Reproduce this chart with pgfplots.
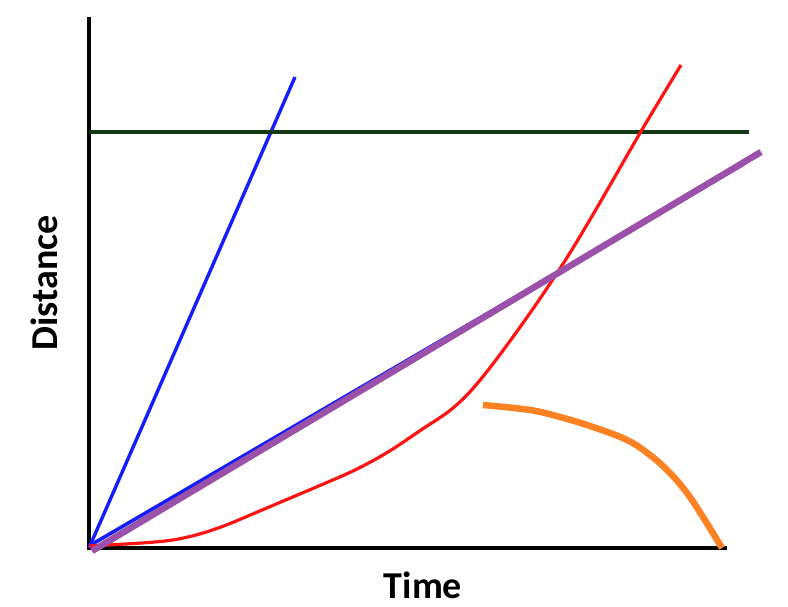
\documentclass[border=0pt]{standalone}
\usepackage{pgfplots}
\pgfplotsset{compat=1.18}
\usepackage{fontspec}
\setmainfont{Carlito}
\definecolor{cblue}{RGB}{20,30,250}
\definecolor{cgreen}{RGB}{20,55,20}
\definecolor{cred}{RGB}{255,20,20}
\definecolor{cpurple}{RGB}{155,80,170}
\definecolor{corange}{RGB}{252,130,35}
\begin{document}
\begin{tikzpicture}
\begin{axis}[
  scale only axis,
  width=638pt, height=531pt,
  xmin=0, xmax=638, ymin=0, ymax=531,
  axis lines=none,
  xtick=\empty, ytick=\empty,
  clip=false,
]
\draw[line width=4pt, black] (axis cs:0,531) -- (axis cs:0,-0.5) -- (axis cs:638,-0.5);
% steep blue
\addplot[cblue, line width=3.4pt] coordinates {(0,0) (206,471)};
% shallow blue (under purple)
\addplot[cblue, line width=3.6pt] coordinates {(0,2) (653,383)};
% horizontal green
\addplot[cgreen, line width=3.4pt] coordinates {(0,416) (660,416)};
% red curve
\addplot[cred, line width=3.2pt, smooth, tension=0.6] coordinates {
(0,2) (66,6) (99,11) (132,21) (166,35) (199,49) (232,63) (266,78)
(299,96) (332,118) (364,140) (392,169) (434,225) (472,281)
(499,325) (524,368) (554,420) (592,483)};
% purple line
\addplot[cpurple, line width=6.5pt] coordinates {(3,-3) (672,396)};
% orange curve
\addplot[corange, line width=6.5pt, smooth, tension=0.6] coordinates {
(394,143) (441,138) (471,131) (504,121) (538,108) (561,93) (581,75)
(598,55) (614,31) (633,0)};
\node[anchor=base, inner sep=0pt, font=\bfseries\fontsize{38}{40}\selectfont] at (axis cs:334,-51) {Time};
\node[rotate=90, inner sep=0pt, font=\bfseries\fontsize{38}{40}\selectfont] at (axis cs:-45,265) {Distance};
\coordinate (bl) at (axis cs:-89,-59);
\coordinate (tr) at (axis cs:699,548);
\end{axis}
\path[use as bounding box] (bl) rectangle (tr);
\end{tikzpicture}
\end{document}
